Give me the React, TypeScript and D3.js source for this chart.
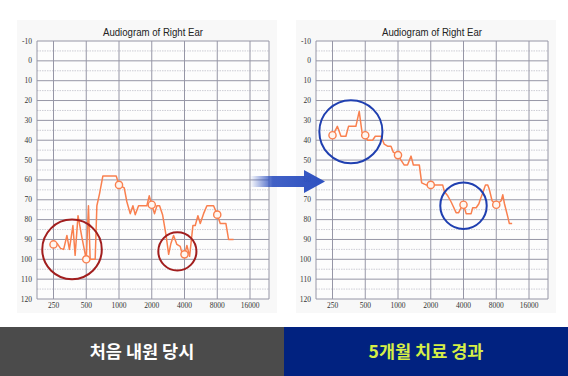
import React from "react";
import * as d3 from "d3";

const TITLE = "Audiogram of Right Ear";
const FREQ_TICKS = [250, 500, 1000, 2000, 4000, 8000, 16000];
const DB_TICKS = [-10, 0, 10, 20, 30, 40, 50, 60, 70, 80, 90, 100, 110, 120];
const DB_MINOR = [-5, 5, 15, 25, 35, 45, 55, 65, 75, 85, 95, 105, 115];

// Before treatment (first visit)
const beforeFreq = [250, 270, 290, 310, 332, 350, 377, 395, 420, 456, 500, 524, 543, 604, 626, 662, 711, 943, 1000, 1117, 1181, 1268, 1342, 1409, 1513, 1804, 1896, 2000, 2123, 2230, 2360, 2514, 2717, 2860, 3000, 3174, 3405, 3654, 3867, 4000, 4207, 4455, 4780, 5020, 5312, 5583, 5990, 6427, 7404, 8000, 8526, 9612, 10167, 11300];
const beforeDb = [92.5, 92, 94.5, 95, 88, 95, 83, 98, 78, 89, 100, 73, 100, 100, 73, 67, 58, 58, 62.5, 64, 71, 77, 73, 77.5, 73, 73, 68, 72.5, 77, 73, 73, 77.5, 88.5, 97.5, 92, 88, 92.5, 93.5, 98.5, 98, 93, 98.5, 83, 83, 78, 82, 77, 73, 73, 77.5, 82, 82, 90, 90];
const beforeMarkFreq = [250, 500, 1000, 2000, 4000, 8000];
const beforeMarkDb = [92.5, 100, 62.5, 72.5, 97.5, 77.5];
const beforeRingFreq = [370, 3440];
const beforeRingDb = [95, 96];
const beforeRingSpanDb = [15, 9.6];

// After 5 months of treatment
const afterFreq = [250, 277, 299, 332, 351, 410, 440, 467, 500, 525, 584, 618, 697, 748, 801, 862, 905, 1000, 1066, 1142, 1223, 1318, 1384, 1571, 1650, 1810, 2000, 2573, 2674, 2866, 3073, 3230, 3420, 3610, 3800, 4000, 4080, 4230, 4700, 4860, 5230, 5540, 5690, 6020, 6370, 6680, 6930, 7320, 8000, 8440, 8880, 9190, 9520, 10200, 10560, 11200];
const afterDb = [38, 33, 38, 38, 33, 33, 25.5, 36, 38, 40, 40, 38, 38, 42, 43, 43, 46, 47.5, 50, 52.5, 52.5, 48, 52.5, 52.5, 61.5, 62.5, 62.5, 62.5, 66, 68, 71, 73.5, 76.5, 76.5, 74, 72.5, 74, 77, 77, 74, 74, 72, 70, 66.5, 62.5, 62.5, 65, 70.5, 72.5, 71.5, 70.5, 67.5, 72, 78.5, 82, 82];
const afterMarkFreq = [250, 500, 1000, 2000, 4000, 8000];
const afterMarkDb = [37.5, 37.5, 47.5, 62.5, 72.5, 72.5];
const afterRingFreq = [369, 4000];
const afterRingDb = [35.7, 73];
const afterRingSpanDb = [15.9, 11.7];

const LABEL_BEFORE = "처음 내원 당시";
const LABEL_AFTER = "5개월 치료 경과";

const LINE_COLOR = "#f9804f";
const GRID_MAJOR = "#9696a6";
const GRID_MINOR = "#c0c0ca";
const SERIF = "'Liberation Serif', 'Times New Roman', serif";

type ChartProps = {
  ox: number;
  freq: number[];
  db: number[];
  markF: number[];
  markD: number[];
  ringF: number[];
  ringD: number[];
  ringS: number[];
  ringColor: string;
};

function Audiogram({ ox, freq, db, markF, markD, ringF, ringD, ringS, ringColor }: ChartProps) {
  const plotLeft = ox;
  const plotRight = ox + 232;
  const x = d3.scaleLog().base(2).domain([250, 16000]).range([ox + 16.5, ox + 16.5 + 6 * 32.75]);
  const y = d3.scaleLinear().domain([-10, 120]).range([41, 299]);
  const pts: [number, number][] = freq.map((f, i) => [f, db[i]]);
  const line = d3.line<[number, number]>().x((d) => x(d[0])).y((d) => y(d[1]));
  const cx = (plotLeft + plotRight) / 2;
  return (
    <g>
      <rect x={ox - 20} y={20} width={260} height={293} fill="#f8f8f8" />
      <rect x={plotLeft} y={y(-10)} width={plotRight - plotLeft} height={y(120) - y(-10)} fill="#fdfdfd" />
      <text x={cx} y={36} textAnchor="middle" fontFamily="'Liberation Sans', Arial, sans-serif" fontSize={11} fill="#222" textLength={100} lengthAdjust="spacingAndGlyphs">
        {TITLE}
      </text>
      {DB_MINOR.map((d) => (
        <line key={"m" + d} x1={plotLeft} x2={plotRight} y1={y(d)} y2={y(d)} stroke={GRID_MINOR} strokeWidth={0.8} strokeDasharray="1.5,1" />
      ))}
      {DB_TICKS.map((d) => (
        <line key={"h" + d} x1={plotLeft} x2={plotRight} y1={y(d)} y2={y(d)} stroke={GRID_MAJOR} strokeWidth={1} />
      ))}
      {[plotLeft, plotRight].map((px, i) => (
        <line key={"b" + i} x1={px} x2={px} y1={y(-10)} y2={y(120)} stroke={GRID_MAJOR} strokeWidth={1} />
      ))}
      {FREQ_TICKS.map((f) => (
        <line key={"v" + f} x1={x(f)} x2={x(f)} y1={y(-10)} y2={y(120)} stroke={GRID_MAJOR} strokeWidth={1} />
      ))}
      {DB_TICKS.map((d) => (
        <text key={"yl" + d} x={plotLeft - 5} y={y(d) + 2.5} textAnchor="end" fontFamily={SERIF} fontSize={7.5} fill="#333">
          {d}
        </text>
      ))}
      {FREQ_TICKS.map((f) => (
        <text key={"xl" + f} x={x(f)} y={308} textAnchor="middle" fontFamily={SERIF} fontSize={7.5} fill="#333">
          {f}
        </text>
      ))}
      <path d={line(pts) || ""} fill="none" stroke={LINE_COLOR} strokeWidth={1.5} strokeLinejoin="round" />
      {markF.map((f, i) => (
        <circle key={"mk" + i} cx={x(f)} cy={y(markD[i])} r={3.6} fill="#fff6f0" stroke={LINE_COLOR} strokeWidth={1.4} />
      ))}
      {ringF.map((f, i) => (
        <circle key={"rg" + i} cx={x(f)} cy={y(ringD[i])} r={y(ringS[i]) - y(0)} fill="none" stroke={ringColor} strokeWidth={2} />
      ))}
    </g>
  );
}

export default function App() {
  return (
    <svg width={568} height={376} style={{ position: "absolute", left: 0, top: 0 }} xmlns="http://www.w3.org/2000/svg">
      <defs>
        <linearGradient id="arrowGrad" x1="250" y1="0" x2="326" y2="0" gradientUnits="userSpaceOnUse">
          <stop offset="0" stopColor="#2d50c0" stopOpacity={0} />
          <stop offset="0.3" stopColor="#2d50c0" stopOpacity={0.9} />
          <stop offset="1" stopColor="#2d50c0" stopOpacity={1} />
        </linearGradient>
      </defs>
      <rect x={0} y={0} width={568} height={376} fill="#ffffff" />
      <Audiogram ox={37} freq={beforeFreq} db={beforeDb} markF={beforeMarkFreq} markD={beforeMarkDb} ringF={beforeRingFreq} ringD={beforeRingDb} ringS={beforeRingSpanDb} ringColor="#a11e1e" />
      <Audiogram ox={316} freq={afterFreq} db={afterDb} markF={afterMarkFreq} markD={afterMarkDb} ringF={afterRingFreq} ringD={afterRingDb} ringS={afterRingSpanDb} ringColor="#1f3fb0" />
      <path d="M250,176 L304,176 L304,170 L325,181.5 L304,193 L304,187 L250,187 Z" fill="url(#arrowGrad)" />
      <rect x={0} y={327} width={284} height={49} fill="#4b4b4b" />
      <rect x={284} y={327} width={284} height={49} fill="#012280" />
      <text x={142} y={358} textAnchor="middle" fontFamily="'Noto Sans CJK KR', sans-serif" fontWeight="bold" fontSize={17.5} fill="#ffffff">
        {LABEL_BEFORE}
      </text>
      <text x={426} y={358} textAnchor="middle" fontFamily="'Noto Sans CJK KR', sans-serif" fontWeight="bold" fontSize={17.5} fill="#d6ef46">
        {LABEL_AFTER}
      </text>
    </svg>
  );
}
